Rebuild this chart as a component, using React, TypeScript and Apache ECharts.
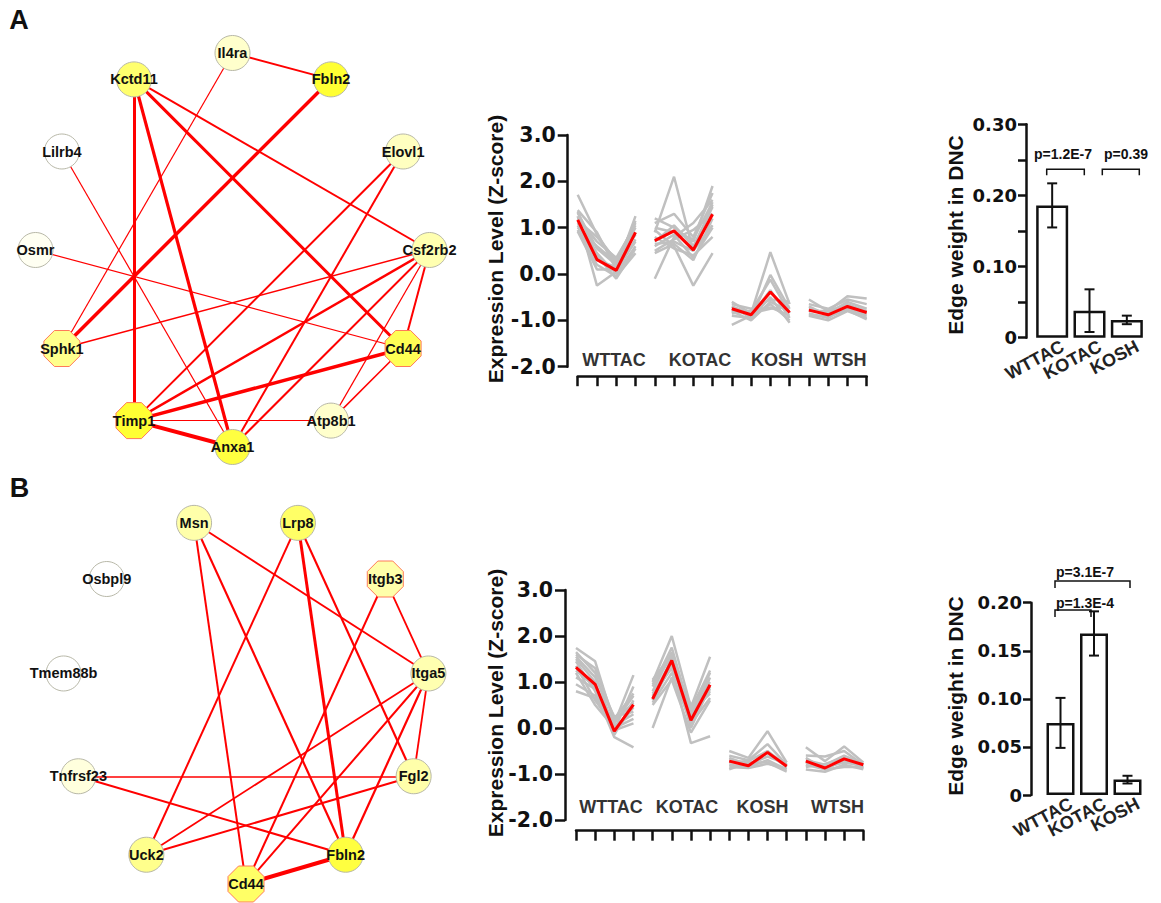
import React, { useEffect, useRef } from 'react';
import * as echarts from 'echarts';

const ARIAL = "'Liberation Sans', Arial, Helvetica, sans-serif";
const DEJAVU = "'DejaVu Sans', Verdana, sans-serif";

const GROUPS = ['WTTAC', 'KOTAC', 'KOSH', 'WTSH'];
const BAR_CATS = ['WTTAC', 'KOTAC', 'KOSH'];

// ---------- Panel A network (nodes in ring order, clockwise from the right) ----------
const A_NODES = ['Csf2rb2', 'Cd44', 'Atp8b1', 'Anxa1', 'Timp1', 'Sphk1', 'Osmr', 'Lilrb4', 'Kctd11', 'Il4ra', 'Fbln2', 'Elovl1'];
const A_HUBS = ['Cd44', 'Timp1', 'Sphk1'];
const A_FILL: Record<string, string> = {
  Csf2rb2: '#FFFFB0', Cd44: '#FFFF55', Atp8b1: '#FFFFCC', Anxa1: '#FFFF40', Timp1: '#FFFF33', Sphk1: '#FFFF8C',
  Osmr: '#FFFFF2', Lilrb4: '#FFFFFF', Kctd11: '#FFFF6E', Il4ra: '#FFFFCC', Fbln2: '#FFFF33', Elovl1: '#FFFFC0',
};
const A_EDGES: [string, string, number][] = [
  ['Il4ra', 'Fbln2', 2], ['Il4ra', 'Sphk1', 1.2], ['Kctd11', 'Timp1', 3], ['Kctd11', 'Anxa1', 3.2],
  ['Kctd11', 'Cd44', 3], ['Kctd11', 'Csf2rb2', 2], ['Fbln2', 'Sphk1', 3.5], ['Lilrb4', 'Anxa1', 1.2],
  ['Elovl1', 'Timp1', 2], ['Elovl1', 'Anxa1', 2], ['Osmr', 'Cd44', 1.2], ['Csf2rb2', 'Sphk1', 1.5],
  ['Csf2rb2', 'Timp1', 2.5], ['Csf2rb2', 'Anxa1', 2], ['Csf2rb2', 'Atp8b1', 1.2], ['Csf2rb2', 'Cd44', 2],
  ['Cd44', 'Timp1', 3.5], ['Cd44', 'Atp8b1', 1.5], ['Timp1', 'Atp8b1', 1.2], ['Timp1', 'Anxa1', 4],
];

// ---------- Panel B network (ring order, clockwise from the bottom) ----------
const B_NODES = ['Cd44', 'Uck2', 'Tnfrsf23', 'Tmem88b', 'Osbpl9', 'Msn', 'Lrp8', 'Itgb3', 'Itga5', 'Fgl2', 'Fbln2'];
const B_HUBS = ['Cd44', 'Itgb3'];
const B_FILL: Record<string, string> = {
  Cd44: '#FFFF66', Uck2: '#FFFF8C', Tnfrsf23: '#FFFFDD', Tmem88b: '#FFFFFF', Osbpl9: '#FFFFFF', Msn: '#FFFFAA',
  Lrp8: '#FFFF66', Itgb3: '#FFFFAA', Itga5: '#FFFFB0', Fgl2: '#FFFFAA', Fbln2: '#FFFF40',
};
const B_EDGES: [string, string, number][] = [
  ['Msn', 'Cd44', 2], ['Msn', 'Fbln2', 2.2], ['Msn', 'Itga5', 1.8], ['Lrp8', 'Uck2', 2],
  ['Lrp8', 'Fbln2', 3], ['Lrp8', 'Fgl2', 2.2], ['Itgb3', 'Itga5', 1.8], ['Itgb3', 'Cd44', 2],
  ['Itga5', 'Uck2', 1.8], ['Itga5', 'Cd44', 2], ['Itga5', 'Fbln2', 2.2], ['Itga5', 'Fgl2', 1.8],
  ['Tnfrsf23', 'Fgl2', 1.5], ['Tnfrsf23', 'Fbln2', 2], ['Fgl2', 'Uck2', 2], ['Cd44', 'Fbln2', 4],
];

// ---------- Panel A expression profiles ----------
const A_RED = [
  [1.17, 0.31, 0.08, 0.9],
  [0.72, 0.93, 0.52, 1.29],
  [-0.75, -0.88, -0.39, -0.83],
  [-0.78, -0.88, -0.7, -0.83],
];
const A_GRAY_WTTAC = [
  [1.71, 0.85, 0.25, 1.0], [1.38, 0.9, 0.1, 1.25], [1.32, 0.55, 0.2, 1.15], [1.25, -0.25, 0.05, 0.75],
  [1.2, 0.7, 0.35, 1.05], [1.1, 0.45, 0.0, 0.6], [1.05, 0.3, 0.15, 0.9], [0.95, 0.2, -0.05, 0.45],
  [1.0, 0.6, 0.25, 0.85], [0.92, 0.1, 0.1, 0.7], [1.35, 0.4, -0.1, 0.55], [1.15, 0.8, 0.3, 1.1],
];
const A_GRAY_KOTAC = [
  [0.9, 2.1, 0.5, 1.5], [1.2, 1.0, 0.7, 1.9], [1.1, 1.3, 0.8, 1.75], [-0.1, 0.8, 1.1, 1.6],
  [0.95, 0.6, -0.25, 0.45], [0.6, 0.85, 0.35, 1.0], [0.5, 0.75, 0.95, 1.3], [0.8, 0.55, 0.4, 0.8],
  [0.7, 1.05, 0.6, 1.45], [0.45, 0.65, 0.3, 1.2], [1.0, 0.9, 0.75, 1.55], [0.65, 0.7, 0.5, 1.05],
];
const A_GRAY_KOSH = [
  [-0.6, -0.85, 0.47, -0.65], [-0.7, -0.95, -0.02, -0.75], [-0.8, -0.8, -0.12, -0.85], [-1.1, -0.9, -0.35, -0.95],
  [-0.65, -0.75, -0.55, -0.6], [-0.75, -0.9, -0.65, -1.0], [-0.85, -0.8, -0.72, -0.9], [-0.9, -0.95, -0.5, -1.05],
  [-0.7, -0.85, -0.75, -0.7], [-0.8, -1.0, -0.6, -0.8],
];
const A_GRAY_WTSH = [
  [-0.55, -0.8, -0.48, -0.53], [-0.65, -0.75, -0.55, -0.65], [-0.75, -0.85, -0.6, -0.75], [-0.85, -0.95, -0.7, -0.85],
  [-0.9, -1.0, -0.8, -0.95], [-0.7, -0.9, -0.75, -0.9], [-0.8, -0.8, -0.65, -0.8], [-0.88, -0.92, -0.78, -0.98],
];

// ---------- Panel B expression profiles ----------
const B_RED = [
  [1.32, 0.95, -0.07, 0.51],
  [0.63, 1.47, 0.17, 0.94],
  [-0.72, -0.82, -0.53, -0.83],
  [-0.72, -0.87, -0.67, -0.8],
];
const B_GRAY_WTTAC = [
  [1.74, 1.45, 0.1, 1.15], [1.65, 1.2, -0.05, 0.9], [1.6, 1.3, 0.2, 0.75], [1.5, 1.0, -0.15, 0.6],
  [1.45, 0.8, -0.2, -0.42], [1.35, 0.6, 0.05, 0.3], [1.25, 0.9, -0.1, 0.45], [1.2, 0.5, 0.0, 0.2],
  [0.95, 0.7, 0.15, 0.55], [0.8, 0.65, -0.05, 0.1], [1.1, 0.85, 0.1, 0.7], [1.55, 1.1, 0.25, 0.35],
];
const B_GRAY_KOTAC = [
  [1.0, 2.0, 0.45, 1.55], [0.9, 1.75, 0.3, 1.2], [1.05, 1.6, 0.2, 1.1], [0.7, 1.5, 0.0, 0.9],
  [0.0, 1.1, 0.35, 0.75], [0.75, 1.3, -0.33, -0.18], [0.55, 1.2, 0.1, 0.65], [0.6, 1.4, 0.5, 1.0],
  [0.8, 1.65, 0.15, 0.85], [0.5, 1.05, -0.1, 0.6], [0.95, 1.55, 0.4, 1.25], [0.65, 1.35, 0.25, 0.8],
];
const B_GRAY_KOSH = [
  [-0.5, -0.65, -0.07, -0.75], [-0.6, -0.7, -0.35, -0.8], [-0.7, -0.8, -0.55, -0.85], [-0.8, -0.85, -0.7, -0.9],
  [-0.9, -0.75, -0.75, -0.95], [-0.65, -0.8, -0.62, -0.78], [-0.85, -0.87, -0.78, -0.88], [-0.75, -0.72, -0.5, -0.82],
];
const B_GRAY_WTSH = [
  [-0.42, -0.72, -0.4, -0.75], [-0.6, -0.62, -0.5, -0.8], [-0.7, -0.8, -0.6, -0.78], [-0.8, -0.9, -0.7, -0.85],
  [-0.9, -0.95, -0.8, -0.9], [-0.75, -0.85, -0.75, -0.82], [-0.65, -0.9, -0.85, -0.85], [-0.85, -0.78, -0.65, -0.88],
];

// ---------- Bar charts ----------
const A_BAR_MEAN = [0.186, 0.038, 0.025];
const A_BAR_ERR = [0.031, 0.03, 0.006];
const B_BAR_MEAN = [0.075, 0.168, 0.016];
const B_BAR_ERR = [0.026, 0.023, 0.004];
const A_PVALUES = ['p=1.2E-7', 'p=0.39'];
const B_PVALUES = ['p=1.3E-4', 'p=3.1E-7'];

const OCTAGON = 'path://M-0.4142,-1L0.4142,-1L1,-0.4142L1,0.4142L0.4142,1L-0.4142,1L-1,0.4142L-1,-0.4142Z';
const INK = '#111111';

function networkSeries(nodes: string[], hubs: string[], fill: Record<string, string>, edges: [string, string, number][], startDeg: number, idx: number) {
  const n = nodes.length;
  return {
    type: 'graph',
    layout: 'none',
    coordinateSystem: 'cartesian2d',
    xAxisIndex: idx,
    yAxisIndex: idx,
    silent: true,
    symbolSize: 34,
    z: 3,
    data: nodes.map((name, i) => {
      const a = ((startDeg + (360 * i) / n) * Math.PI) / 180;
      const hub = hubs.indexOf(name) >= 0;
      return {
        name,
        value: [Math.cos(a), Math.sin(a)],
        symbol: hub ? OCTAGON : 'circle',
        symbolSize: hub ? 36 : 35,
        itemStyle: {
          color: fill[name],
          borderColor: hub ? '#FF7A5A' : '#B8B8A8',
          borderWidth: 1,
        },
      };
    }),
    links: edges.map(([s, t, w]) => ({ source: s, target: t, lineStyle: { width: w } })),
    lineStyle: { color: '#FF0000', opacity: 1, curveness: 0 },
    label: {
      show: true,
      position: 'inside',
      color: INK,
      fontFamily: ARIAL,
      fontWeight: 'bold',
      fontSize: 14.5,
    },
    emphasis: { disabled: true },
  };
}

function profileSeries(grays: number[][][], red: number[][], idx: number) {
  const out: any[] = [];
  grays.forEach((lines, g) => {
    lines.forEach((vals) => {
      out.push({
        type: 'line',
        xAxisIndex: idx,
        yAxisIndex: idx,
        data: vals.map((v, i) => [g * 4 + i + 1, v]),
        symbol: 'none',
        silent: true,
        z: 2,
        lineStyle: { color: '#C0C0C0', width: 2.5 },
      });
    });
  });
  red.forEach((vals, g) => {
    out.push({
      type: 'line',
      xAxisIndex: idx,
      yAxisIndex: idx,
      data: vals.map((v, i) => [g * 4 + i + 1, v]),
      symbol: 'none',
      silent: true,
      z: 4,
      lineStyle: { color: '#FF0000', width: 3 },
    });
  });
  return out;
}

function barSeries(mean: number[], err: number[], idx: number, width: number) {
  return [
    {
      type: 'bar',
      xAxisIndex: idx,
      yAxisIndex: idx,
      data: mean,
      barWidth: width,
      silent: true,
      itemStyle: { color: '#FFFFFF', borderColor: INK, borderWidth: 2.5 },
    },
    {
      type: 'custom',
      xAxisIndex: idx,
      yAxisIndex: idx,
      silent: true,
      z: 5,
      data: mean.map((m, i) => [i, m - err[i], m + err[i]]),
      renderItem: (params: any, api: any) => {
        const lo = api.coord([api.value(0), api.value(1)]);
        const hi = api.coord([api.value(0), api.value(2)]);
        const cap = 5;
        const st = { stroke: INK, lineWidth: 2 };
        return {
          type: 'group',
          children: [
            { type: 'line', shape: { x1: lo[0], y1: lo[1], x2: hi[0], y2: hi[1] }, style: st },
            { type: 'line', shape: { x1: lo[0] - cap, y1: lo[1], x2: lo[0] + cap, y2: lo[1] }, style: st },
            { type: 'line', shape: { x1: hi[0] - cap, y1: hi[1], x2: hi[0] + cap, y2: hi[1] }, style: st },
          ],
        };
      },
    },
  ];
}

const hiddenAxis = (idx: number, inverse = false) => ({
  type: 'value', gridIndex: idx, min: -1, max: 1, show: false, inverse,
});

function profileAxes(idx: number, yOffset: number, xOffset: number) {
  return {
    x: {
      type: 'value', gridIndex: idx, min: 1, max: 16, interval: 1, offset: xOffset,
      axisLine: { show: true, onZero: false, lineStyle: { color: INK, width: 2.5 } },
      axisTick: { show: true, length: 10, lineStyle: { color: INK, width: 2.5 } },
      axisLabel: { show: false },
      splitLine: { show: false },
    },
    y: {
      type: 'value', gridIndex: idx, min: -2, max: 3, interval: 1, offset: yOffset,
      axisLine: { show: true, onZero: false, lineStyle: { color: INK, width: 2.5 } },
      axisTick: { show: true, length: 10, lineStyle: { color: INK, width: 2.5 } },
      axisLabel: {
        margin: 12, color: INK, fontFamily: DEJAVU, fontWeight: 'bold', fontSize: 20.5,
        formatter: (v: number) => v.toFixed(1),
      },
      splitLine: { show: false },
    },
  };
}

function barAxes(idx: number, max: number, yOffset: number, labelEvery: number) {
  return {
    x: {
      type: 'category', gridIndex: idx, data: BAR_CATS,
      axisLine: { show: false }, axisTick: { show: false },
      axisLabel: {
        interval: 0, rotate: 28, margin: 13, padding: [0, -12, 0, 0],
        color: '#222', fontFamily: ARIAL, fontWeight: 'bold', fontSize: 18,
      },
    },
    y: {
      type: 'value', gridIndex: idx, min: 0, max, interval: 0.05, offset: yOffset,
      axisLine: { show: true, onZero: false, lineStyle: { color: INK, width: 2.5 } },
      axisTick: { show: true, length: 8, lineStyle: { color: INK, width: 2.5 } },
      axisLabel: {
        margin: 9, color: INK, fontFamily: DEJAVU, fontWeight: 'bold', fontSize: 18,
        formatter: (v: number) => {
          const k = Math.round(v / 0.05);
          if (Math.abs(v / 0.05 - k) > 1e-6 || k % labelEvery !== 0) return '';
          return k === 0 ? '0' : (k * 0.05).toFixed(2);
        },
      },
      splitLine: { show: false },
    },
  };
}

const txt = (text: string, x: number, y: number, size: number, opts: any = {}) => ({
  type: 'text',
  x,
  y,
  rotation: opts.rotation || 0,
  silent: true,
  style: {
    text,
    fill: opts.fill || INK,
    fontFamily: opts.family || ARIAL,
    fontWeight: 'bold',
    fontSize: size,
    align: opts.align || 'center',
    verticalAlign: 'middle',
  },
});

const bracket = (x1: number, x2: number, top: number, leg: number) => ({
  type: 'polyline',
  silent: true,
  shape: { points: [[x1, top + leg], [x1, top], [x2, top], [x2, top + leg]] },
  style: { stroke: INK, lineWidth: 1.5, fill: 'none' },
});

export default function App() {
  const ref = useRef<HTMLDivElement>(null);

  useEffect(() => {
    if (!ref.current) return;
    const chart = echarts.init(ref.current, undefined, { renderer: 'svg' });

    const pa = profileAxes(1, 10, 9.5);
    const pb = profileAxes(4, 11, 10.7);
    const ba = barAxes(2, 0.3, 7.5, 2);
    const bb = barAxes(5, 0.2, 12.75, 1);

    const option: any = {
      animation: false,
      backgroundColor: '#FFFFFF',
      grid: [
        { left: 35.5, top: 53, width: 394, height: 394, outerBoundsMode: 'none' },
        { left: 577.7, top: 135, width: 289, height: 231.7, outerBoundsMode: 'none' },
        { left: 1033.5, top: 124.3, width: 112, height: 213.4, outerBoundsMode: 'none' },
        { left: 61.7, top: 515.4, width: 368.6, height: 368.6, outerBoundsMode: 'none' },
        { left: 576, top: 590, width: 287.3, height: 230, outerBoundsMode: 'none' },
        { left: 1043.75, top: 602.7, width: 100.5, height: 192.3, outerBoundsMode: 'none' },
      ],
      xAxis: [hiddenAxis(0), pa.x, ba.x, hiddenAxis(3), pb.x, bb.x],
      yAxis: [hiddenAxis(0, true), pa.y, ba.y, hiddenAxis(3, true), pb.y, bb.y],
      series: [
        networkSeries(A_NODES, A_HUBS, A_FILL, A_EDGES, 0, 0),
        ...profileSeries([A_GRAY_WTTAC, A_GRAY_KOTAC, A_GRAY_KOSH, A_GRAY_WTSH], A_RED, 1),
        ...barSeries(A_BAR_MEAN, A_BAR_ERR, 2, 32),
        networkSeries(B_NODES, B_HUBS, B_FILL, B_EDGES, 90, 3),
        ...profileSeries([B_GRAY_WTTAC, B_GRAY_KOTAC, B_GRAY_KOSH, B_GRAY_WTSH], B_RED, 4),
        ...barSeries(B_BAR_MEAN, B_BAR_ERR, 5, 28),
      ],
      graphic: [
        txt('A', 19, 20, 27),
        txt('B', 19.5, 488, 27),
        txt('Expression Level (Z-score)', 495, 249, 21, { rotation: Math.PI / 2 }),
        txt('Expression Level (Z-score)', 495, 703, 21, { rotation: Math.PI / 2 }),
        txt(GROUPS[0], 614, 360, 18, { fill: '#333' }),
        txt(GROUPS[1], 700, 360, 18, { fill: '#333' }),
        txt(GROUPS[2], 777, 360, 18, { fill: '#333' }),
        txt(GROUPS[3], 840, 360, 18, { fill: '#333' }),
        txt(GROUPS[0], 611, 807, 18, { fill: '#333' }),
        txt(GROUPS[1], 687, 807, 18, { fill: '#333' }),
        txt(GROUPS[2], 762.5, 807, 18, { fill: '#333' }),
        txt(GROUPS[3], 837.5, 807, 18, { fill: '#333' }),
        txt('Edge weight in DNC', 955.5, 235, 21, { rotation: Math.PI / 2 }),
        txt('Edge weight in DNC', 955.5, 696, 21, { rotation: Math.PI / 2 }),
        bracket(1046.7, 1084.3, 169.3, 6),
        bracket(1102.3, 1139.3, 169.3, 6),
        txt(A_PVALUES[0], 1063, 154, 14),
        txt(A_PVALUES[1], 1126, 154, 14),
        bracket(1055, 1091, 610, 7),
        bracket(1055, 1130, 581, 7),
        txt(B_PVALUES[0], 1056, 603, 14, { align: 'left' }),
        txt(B_PVALUES[1], 1056, 572, 14, { align: 'left' }),
      ],
    };

    chart.setOption(option);
    return () => chart.dispose();
  }, []);

  return (
    <div
      ref={ref}
      style={{ position: 'absolute', left: 0, top: 0, width: 1161, height: 903, background: '#fff' }}
    />
  );
}
